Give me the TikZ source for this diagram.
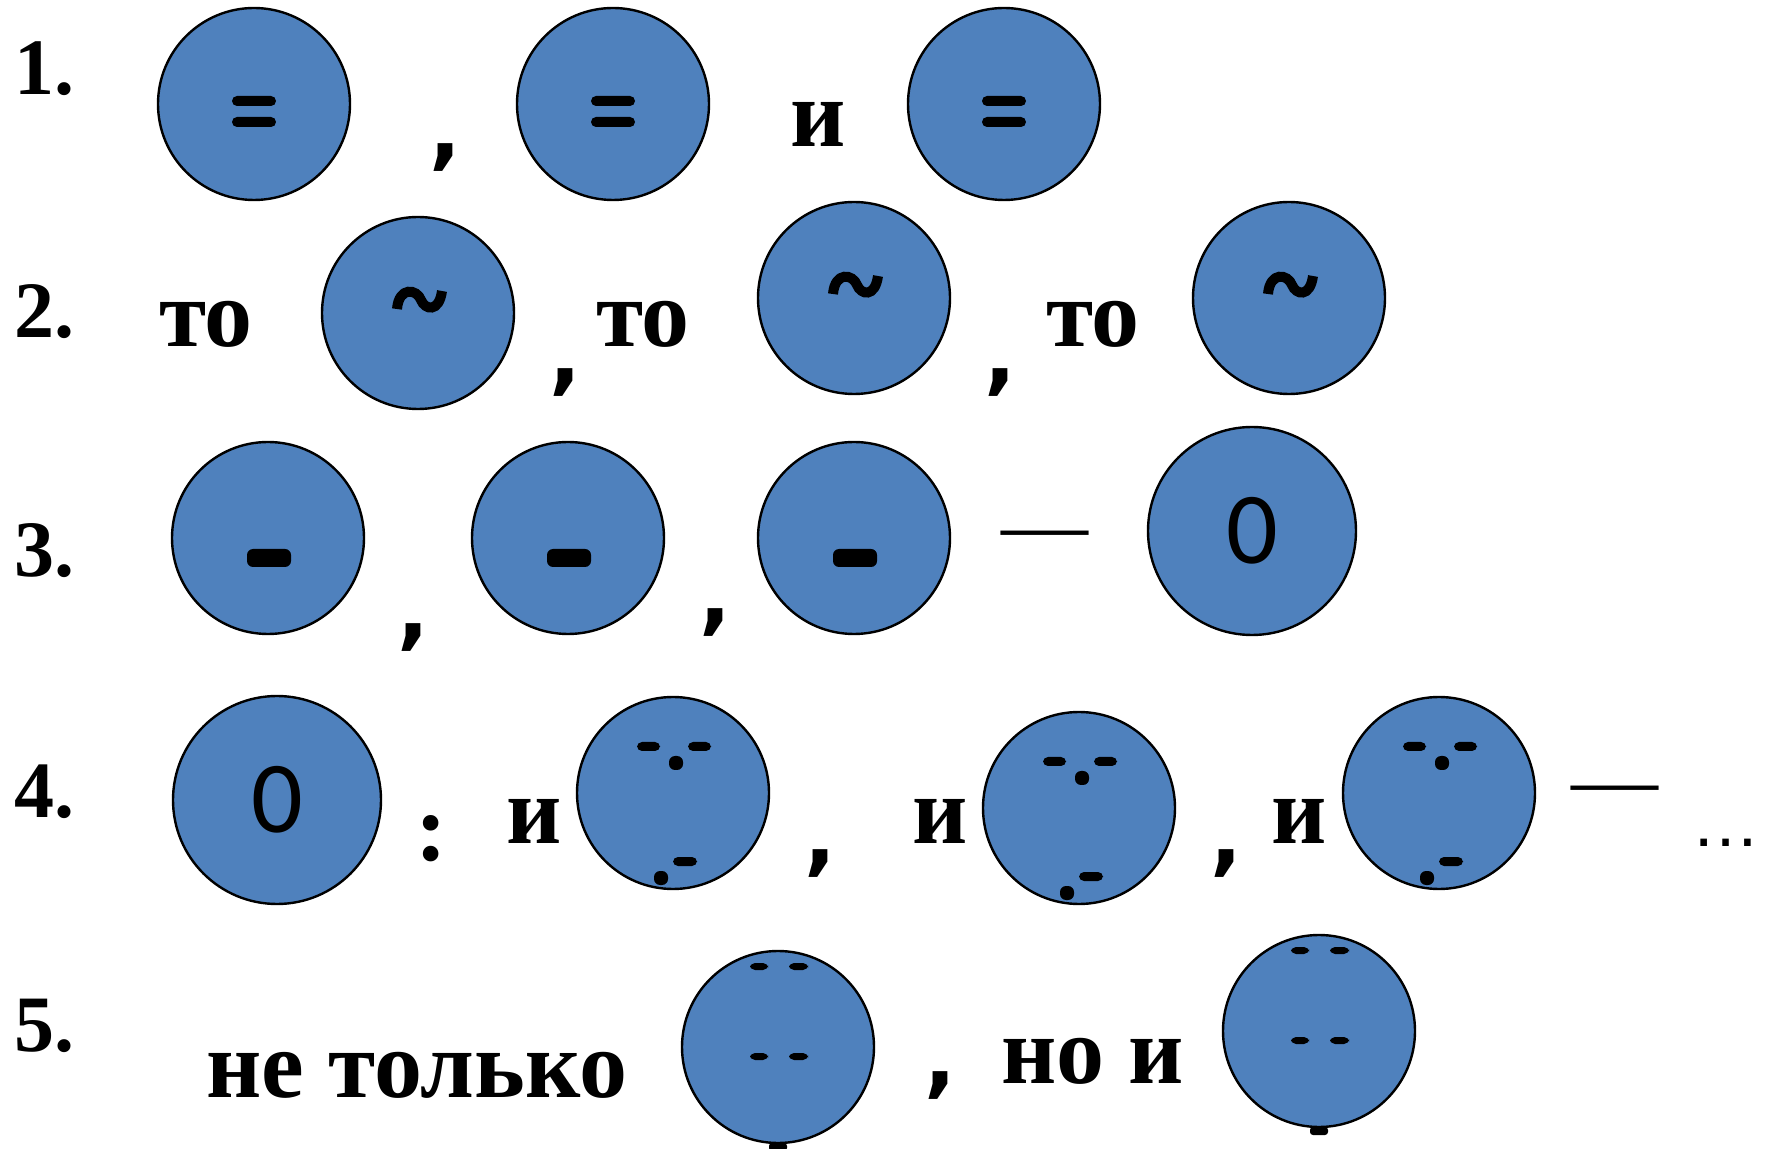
\documentclass[tikz,border=0pt]{standalone}
\usepackage{fontspec}
\setmainfont{Liberation Serif}
\newfontfamily\commafont{DejaVu Sans}
\newfontfamily\zerofont{Carlito}
\newfontfamily\dotsfont{Liberation Sans}
\usetikzlibrary{calc}
\definecolor{ballblue}{RGB}{79, 129, 189}
\tikzset{
  ball/.style={circle, draw=black, line width=1.2pt, fill=ballblue,
               minimum size=96pt, inner sep=0pt},
  bigball/.style={ball, minimum size=104pt, font=\zerofont\fontsize{51}{52}\selectfont},
  numlabel/.style={anchor=base, inner sep=0pt, font=\fontsize{40}{42}\selectfont\bfseries},
  word/.style={anchor=base, inner sep=0pt, font=\fontsize{48}{50}\selectfont\bfseries},
  commamark/.style={anchor=base, inner sep=0pt, font=\commafont\fontsize{42}{44}\selectfont\bfseries},
  dashmark/.style={anchor=base, inner sep=0pt, font=\fontsize{43.5}{45}\selectfont},
  bar/.style={fill=black, rounded corners=2.5pt},
  eqsign/.pic={
    \fill[bar] (-22,-8) rectangle (22,2);
    \fill[bar] (-22,13) rectangle (22,23);
  },
  tildesign/.pic={
    \draw[line width=5pt] (-21,-4) .. controls (-19,-27) and (-1,-24) .. (3,-13)
      .. controls (7,-3) and (21,0) .. (24,-22);
  },
  minussign/.pic={
    \fill[bar, rounded corners=3pt] (-21,11) rectangle (23,29);
  },
  face/.pic={
    \fill[bar] (-36,-51) rectangle (-13,-42);
    \fill[bar] (15,-51) rectangle (38,-42);
    \fill[bar, rounded corners=3pt] (-4,-37) rectangle (10,-23);
    \fill[bar] (0,64) rectangle (24,73);
    \fill[bar, rounded corners=3pt] (-19,78) rectangle (-5,92);
  },
  doubleface/.pic={
    \fill[bar] (-28,-84) rectangle (-10,-77);
    \fill[bar] (11,-84) rectangle (30,-77);
    \fill[bar] (-28,6) rectangle (-10,13);
    \fill[bar] (11,6) rectangle (30,13);
    \fill[black, rounded corners=1.5pt] (-9,96) rectangle (9,104);
  },
}

\begin{document}
\begin{tikzpicture}[x=0.5pt, y=-0.5pt]
  \useasboundingbox (0,0) rectangle (1768,1149);

  % row numbers
  \foreach \n/\y in {1/95, 2/338, 3/577, 4/818, 5/1051}
    \node[numlabel] (num\n) at (44,\y) {\n.};

  % row 1
  \foreach \n/\x in {a/254, b/613, c/1004} {
    \node[ball] (eq\n) at (\x,104) {};
    \pic at (eq\n) {eqsign};
  }
  \node[commamark] (c1a) at (445,160) {,};
  \node[word] (and1) at (818,147) {и};

  % row 2
  \foreach \n/\x/\y in {a/418/313, b/854/298, c/1289/298} {
    \node[ball] (tl\n) at (\x,\y) {};
    \pic at (tl\n) {tildesign};
  }
  \foreach \n/\x in {a/206, b/643, c/1093}
    \node[word] (then\n) at (\x,347) {то};
  \node[commamark] (c2a) at (565,385) {,};
  \node[commamark] (c2b) at (1000,385) {,};

  % row 3
  \foreach \n/\x in {a/268, b/568, c/854} {
    \node[ball] (mn\n) at (\x,538) {};
    \pic at (mn\n) {minussign};
  }
  \node[commamark] (c3a) at (413,640) {,};
  \node[commamark] (c3b) at (715,625) {,};
  \node[dashmark] (dash3) at (1045,554) {—};
  \node[bigball] (zero3) at (1252,531) {0};

  % row 4
  \node[bigball] (zero4) at (277,800) {0};
  \node[word] (colon4) at (431,860) {:};
  \foreach \n/\x/\y in {a/673/793, b/1079/808, c/1439/793} {
    \node[ball] (fc\n) at (\x,\y) {};
    \pic at (fc\n) {face};
  }
  \foreach \n/\x in {a/534, b/940, c/1299}
    \node[word] (and4\n) at (\x,843) {и};
  \node[commamark] (c4a) at (820,865) {,};
  \node[commamark] (c4b) at (1226,865) {,};
  \node[dashmark] (dash4) at (1615,808) {—};
  \node[anchor=base, inner sep=0pt, font=\dotsfont\fontsize{34.5}{35}\selectfont]
    (etc) at (1726,847) {…};

  % row 5
  \node[word] (notonly) at (417,1097) {не только};
  \node[ball] (dfa) at (778,1047) {};
  \pic at (dfa) {doubleface};
  \node[commamark] (c5a) at (940,1087) {,};
  \node[word] (butalso) at (1093,1083) {но и};
  \node[ball] (dfb) at (1319,1031) {};
  \pic at (dfb) {doubleface};
\end{tikzpicture}
\end{document}
